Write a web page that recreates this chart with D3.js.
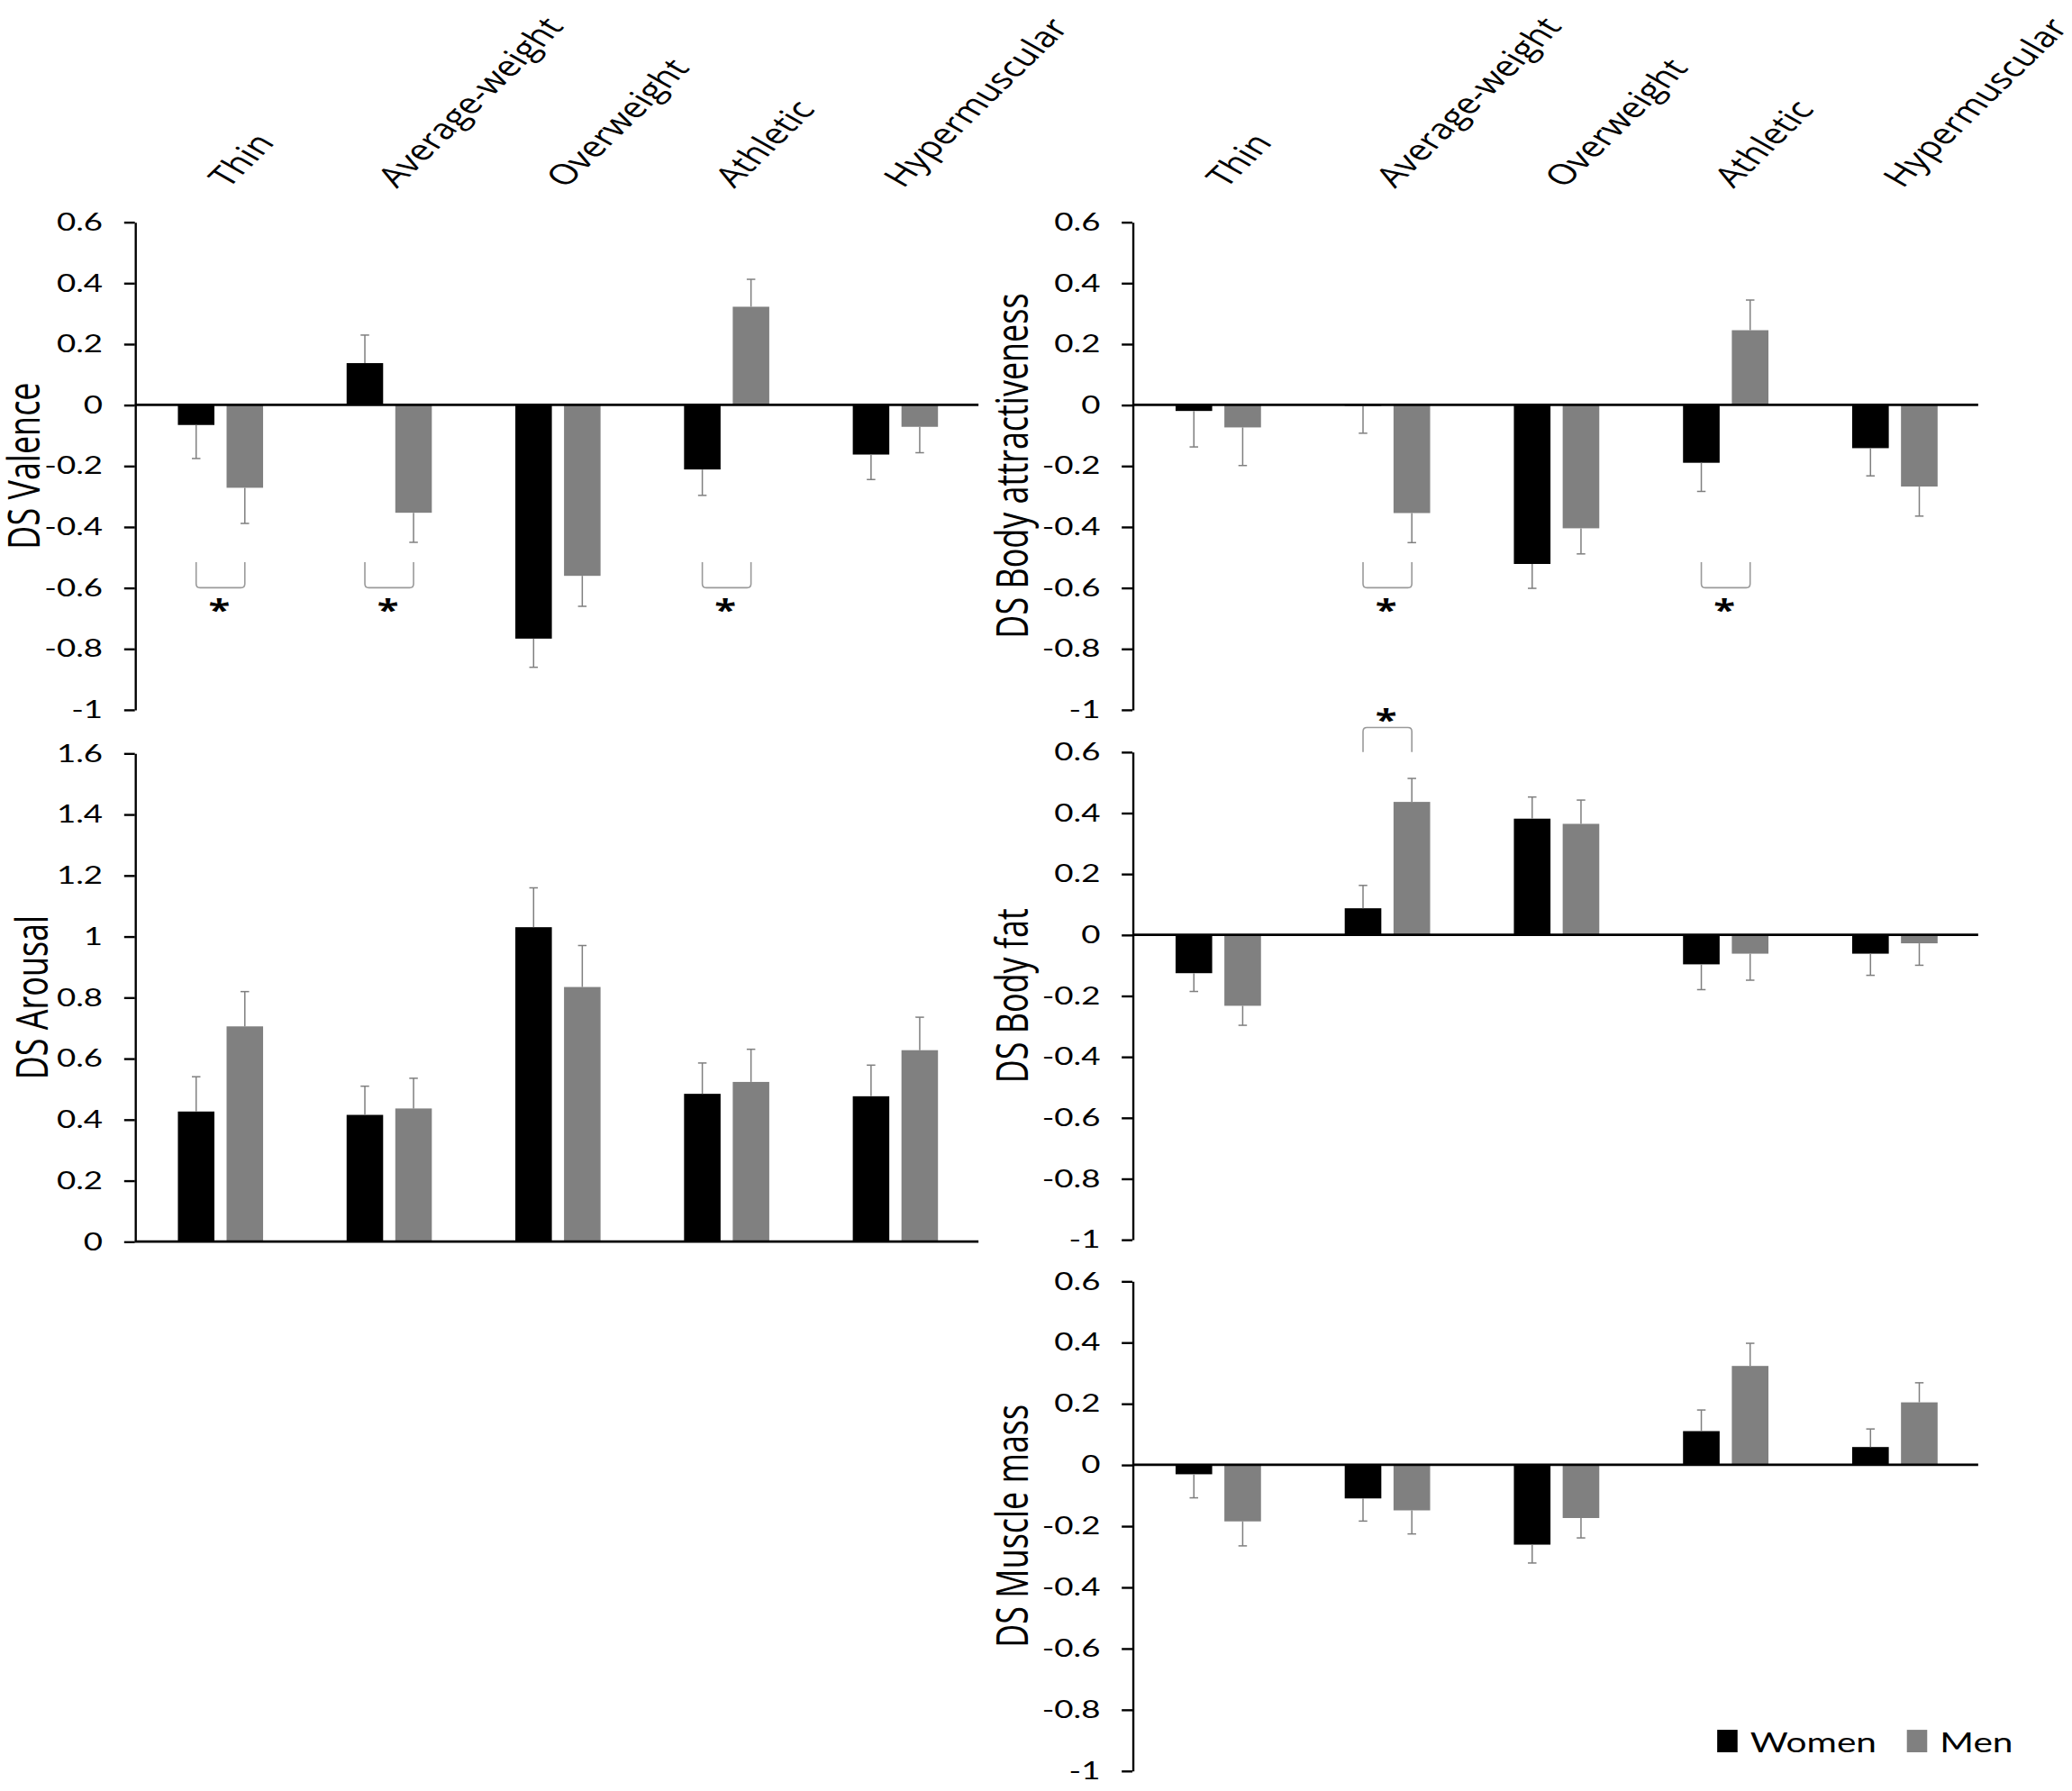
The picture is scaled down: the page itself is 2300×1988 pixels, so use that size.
<!DOCTYPE html>
<html>
<head>
<meta charset="utf-8">
<script src="https://cdn.jsdelivr.net/npm/d3@7"></script>
<style>
  body { margin: 0; background: #fff; }
</style>
</head>
<body>
<div id="chart"></div>
<script>
var categories = ['Thin', 'Average-weight', 'Overweight', 'Athletic', 'Hypermuscular'];
var groups = ['Women', 'Men'];

var bipolarTicks = [0.6, 0.4, 0.2, 0, -0.2, -0.4, -0.6, -0.8, -1];
var arousalTicks = [1.6, 1.4, 1.2, 1, 0.8, 0.6, 0.4, 0.2, 0];

// means and standard errors
var valenceWomen    = [-0.066, 0.137, -0.767, -0.212, -0.163];
var valenceWomenErr = [0.110, 0.092, 0.094, 0.085, 0.082];
var valenceMen      = [-0.272, -0.354, -0.561, 0.322, -0.072];
var valenceMenErr   = [0.117, 0.097, 0.100, 0.090, 0.085];

var arousalWomen    = [0.426, 0.415, 1.030, 0.484, 0.476];
var arousalWomenErr = [0.114, 0.094, 0.129, 0.101, 0.102];
var arousalMen      = [0.705, 0.436, 0.834, 0.523, 0.627];
var arousalMenErr   = [0.114, 0.099, 0.136, 0.107, 0.108];

var attractWomen    = [-0.020, -0.003, -0.522, -0.190, -0.142];
var attractWomenErr = [0.118, 0.090, 0.080, 0.094, 0.091];
var attractMen      = [-0.074, -0.355, -0.405, 0.245, -0.268];
var attractMenErr   = [0.125, 0.097, 0.084, 0.099, 0.097];

var fatWomen    = [-0.126, 0.087, 0.381, -0.097, -0.062];
var fatWomenErr = [0.060, 0.075, 0.071, 0.083, 0.071];
var fatMen      = [-0.233, 0.436, 0.364, -0.062, -0.028];
var fatMenErr   = [0.064, 0.077, 0.078, 0.087, 0.072];

var muscleWomen    = [-0.031, -0.110, -0.261, 0.110, 0.058];
var muscleWomenErr = [0.077, 0.074, 0.060, 0.069, 0.059];
var muscleMen      = [-0.185, -0.149, -0.174, 0.323, 0.204];
var muscleMenErr   = [0.080, 0.077, 0.065, 0.074, 0.064];

// significant women/men differences
var valenceSig = ['Thin', 'Average-weight', 'Athletic'];
var attractSig = ['Average-weight', 'Athletic'];
var fatSig = ['Average-weight'];

var colors = { Women: '#000000', Men: '#808080' };

// the original figure is stretched sideways, text included
var stretch = 1.35;
var W = 2300, H = 1988;
var vbH = 1355.3;
var vbW = W / (H / vbH) / stretch;

var svg = d3.select('#chart').append('svg')
  .attr('width', W)
  .attr('height', H)
  .attr('viewBox', '0 0 ' + vbW + ' ' + vbH)
  .attr('preserveAspectRatio', 'none');

var leftX = [75.6, 548.5], rightX = [634.8, 1108.9];

var fmt = function (d) { return String(+d.toFixed(1)); };

function thin(sel, w) {
  sel.attr('vector-effect', 'non-scaling-stroke').attr('stroke-width', w);
}

function Panel(o) {
  var p = this;
  var x = d3.scaleBand().domain(categories).range(o.xr);
  var bw = x.bandwidth();
  var inner = d3.scaleBand().domain(groups)
    .range([0.255 * bw, 0.76 * bw]).paddingInner(0.25);
  var y = d3.scaleLinear().domain(o.domain).range(o.yr);
  p.g = svg.append('g');

  var rows = [];
  categories.forEach(function (c, i) {
    rows.push({ cat: c, grp: 'Women', v: o.women[i], e: o.womenErr[i] });
    rows.push({ cat: c, grp: 'Men', v: o.men[i], e: o.menErr[i] });
  });
  var cx = function (d) { return x(d.cat) + inner(d.grp) + inner.bandwidth() / 2; };

  p.g.selectAll('rect.bar').data(rows).enter().append('rect')
    .attr('class', 'bar')
    .attr('x', function (d) { return x(d.cat) + inner(d.grp); })
    .attr('width', inner.bandwidth())
    .attr('y', function (d) { return y(Math.max(0, d.v)); })
    .attr('height', function (d) { return Math.abs(y(d.v) - y(0)); })
    .attr('fill', function (d) { return colors[d.grp]; });

  // error bars point away from zero
  var tip = function (d) { return y(d.v + (d.v < 0 ? -d.e : d.e)); };
  var err = p.g.selectAll('g.err').data(rows).enter().append('g').attr('class', 'err');
  err.append('line')
    .attr('x1', cx).attr('x2', cx)
    .attr('y1', function (d) { return y(d.v); })
    .attr('y2', tip)
    .attr('stroke', '#7f7f7f').call(thin, 1.5);
  err.append('line')
    .attr('x1', function (d) { return cx(d) - 2.4; })
    .attr('x2', function (d) { return cx(d) + 2.4; })
    .attr('y1', tip).attr('y2', tip)
    .attr('stroke', '#7f7f7f').call(thin, 1.5);

  var axis = p.g.append('g')
    .attr('transform', 'translate(' + o.xr[0] + ',0)')
    .call(d3.axisLeft(y).tickValues(o.ticks).tickFormat(fmt)
      .tickSize(6).tickSizeOuter(0).tickPadding(12));
  axis.selectAll('path, line').attr('stroke', '#000').call(thin, 2.4);
  axis.selectAll('text')
    .attr('font-family', 'Lato, "Open Sans", sans-serif')
    .attr('font-size', 18.5)
    .attr('fill', '#000');

  p.g.append('line')
    .attr('x1', o.xr[0]).attr('x2', o.xr[1])
    .attr('y1', y(0)).attr('y2', y(0))
    .attr('stroke', '#000').call(thin, 2.6);

  p.g.append('text')
    .attr('transform', 'translate(' + o.titleX + ',' + (o.yr[0] + o.yr[1]) / 2 + ') rotate(-90)')
    .attr('text-anchor', 'middle')
    .attr('font-family', '"Open Sans", sans-serif')
    .attr('font-size', 24.5)
    .attr('fill', '#000')
    .text(o.title);

  if (o.labels) {
    p.g.selectAll('text.cat').data(categories).enter().append('text')
      .attr('class', 'cat')
      .attr('transform', function (c) {
        return 'translate(' + (x(c) + bw / 2 + 5) + ',143) rotate(-52.5)';
      })
      .attr('font-family', '"Open Sans", sans-serif')
      .attr('font-size', 21.5)
      .attr('fill', '#000')
      .text(function (c) { return c; });
  }

  if (o.sig) {
    var sg = p.g.selectAll('g.sig').data(o.sig).enter().append('g').attr('class', 'sig');
    sg.append('path')
      .attr('d', function (c) {
        var x1 = x(c) + inner('Women') + inner.bandwidth() / 2;
        var x2 = x(c) + inner('Men') + inner.bandwidth() / 2;
        var ya = y(o.bracket[0]), yb = y(o.bracket[1]);
        var r = yb > ya ? 3 : -3;
        return 'M' + x1 + ',' + ya + 'V' + (yb - r) +
          'Q' + x1 + ',' + yb + ' ' + (x1 + 2.2) + ',' + yb +
          'H' + (x2 - 2.2) +
          'Q' + x2 + ',' + yb + ' ' + x2 + ',' + (yb - r) +
          'V' + ya;
      })
      .attr('fill', 'none')
      .attr('stroke', '#9a9a9a').call(thin, 1.6);
    sg.append('text')
      .attr('x', function (c) { return x(c) + bw / 2; })
      .attr('y', y(o.star) + 12.5)
      .attr('text-anchor', 'middle')
      .attr('font-family', '"Open Sans", sans-serif')
      .attr('font-weight', 'bold')
      .attr('font-size', 22)
      .attr('fill', '#000')
      .text('*');
  }
}

new Panel({ title: 'DS Valence', women: valenceWomen, womenErr: valenceWomenErr,
  men: valenceMen, menErr: valenceMenErr, domain: [-1, 0.6], ticks: bipolarTicks,
  xr: leftX, yr: [537, 168], titleX: 22, labels: true,
  sig: valenceSig, bracket: [-0.516, -0.6], star: -0.655 });

new Panel({ title: 'DS Arousal', women: arousalWomen, womenErr: arousalWomenErr,
  men: arousalMen, menErr: arousalMenErr, domain: [0, 1.6], ticks: arousalTicks,
  xr: leftX, yr: [939.5, 570], titleX: 26.7 });

new Panel({ title: 'DS Body attractiveness', women: attractWomen, womenErr: attractWomenErr,
  men: attractMen, menErr: attractMenErr, domain: [-1, 0.6], ticks: bipolarTicks,
  xr: rightX, yr: [537, 168], titleX: 576, labels: true,
  sig: attractSig, bracket: [-0.516, -0.6], star: -0.655 });

new Panel({ title: 'DS Body fat', women: fatWomen, womenErr: fatWomenErr,
  men: fatMen, menErr: fatMenErr, domain: [-1, 0.6], ticks: bipolarTicks,
  xr: rightX, yr: [938, 569], titleX: 576,
  sig: fatSig, bracket: [0.6, 0.68], star: 0.725 });

new Panel({ title: 'DS Muscle mass', women: muscleWomen, womenErr: muscleWomenErr,
  men: muscleMen, menErr: muscleMenErr, domain: [-1, 0.6], ticks: bipolarTicks,
  xr: rightX, yr: [1340, 969.5], titleX: 576 });

// legend
var lx = 962.6;
groups.forEach(function (g) {
  var item = svg.append('g').attr('class', 'legend');
  item.append('rect')
    .attr('x', lx).attr('y', 1309)
    .attr('width', 11.4).attr('height', 17)
    .attr('fill', colors[g]);
  var t = item.append('text')
    .attr('x', lx + 18.5).attr('y', 1326)
    .attr('font-family', 'Lato, "Open Sans", sans-serif')
    .attr('font-size', 20.5)
    .attr('fill', '#000')
    .text(g);
  lx += 18.5 + t.node().getComputedTextLength() + 17;
});
</script>
</body>
</html>
